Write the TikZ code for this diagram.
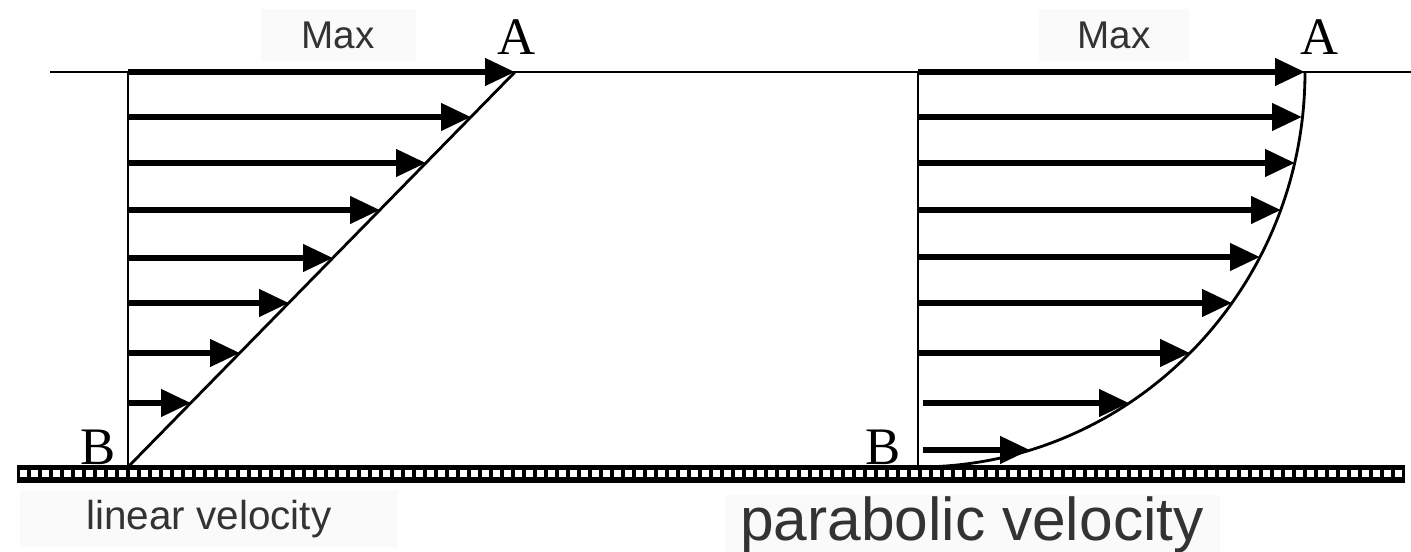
\documentclass[tikz,border=0pt]{standalone}
\usepackage{fontspec}
\setmainfont{Liberation Serif}
\setsansfont{Liberation Sans}
\usetikzlibrary{arrows.meta, positioning}

\begin{document}
\begin{tikzpicture}[
        wall/.style={draw=black, line width=0.6pt},
        profile/.style={draw=black, line width=0.8pt},
        vel/.style={-{Triangle[length=8.5pt, width=7.5pt]}, line width=1.7pt},
        tag/.style={font=\fontsize{11}{13}\selectfont\sffamily, fill=black!2, inner sep=0pt, text=black!80},
        caption/.style={font=\fontsize{11.5}{13}\selectfont\sffamily, fill=black!2, inner sep=0pt, text=black!80},
        pt/.style={font=\fontsize{15}{15}\selectfont, inner sep=0pt}
    ]
        \useasboundingbox (0,0) rectangle (14.11,5.52);

        % ground strip
        \fill[black] (0.17,0.69) rectangle (14.05,0.87);
        \foreach \i in {0,...,125}
            \fill[white] ({0.20+0.11*\i},0.75) rectangle ++(0.065,0.065);

        % free surface
        \draw[wall] (0.50,4.80) -- (14.11,4.80);

        % linear profile
        \coordinate (A1) at (5.15,4.80);
        \coordinate (B1) at (1.28,0.85);
        \draw[wall] (B1) -- (1.28,4.80);
        \draw[profile] (B1) -- (A1);
        \draw[vel] (1.28,4.80) -- (A1);
        \draw[vel] (1.28,4.35) -- (4.71,4.35);
        \draw[vel] (1.28,3.89) -- (4.26,3.89);
        \draw[vel] (1.28,3.42) -- (3.80,3.42);
        \draw[vel] (1.28,2.94) -- (3.33,2.94);
        \draw[vel] (1.28,2.49) -- (2.89,2.49);
        \draw[vel] (1.28,1.99) -- (2.40,1.99);
        \draw[vel] (1.28,1.49) -- (1.91,1.49);

        % parabolic profile
        \coordinate (A2) at (13.05,4.80);
        \coordinate (B2) at (9.18,0.85);
        \draw[wall] (B2) -- (9.18,4.80);
        \draw[profile] (A2) arc[start angle=0, end angle=-90, x radius=3.87, y radius=3.95];
        \draw[vel] (9.18,4.80) -- (A2);
        \draw[vel] (9.18,4.35) -- (13.02,4.35);
        \draw[vel] (9.18,3.89) -- (12.95,3.89);
        \draw[vel] (9.18,3.42) -- (12.81,3.42);
        \draw[vel] (9.18,2.95) -- (12.60,2.95);
        \draw[vel] (9.18,2.49) -- (12.32,2.49);
        \draw[vel] (9.18,1.99) -- (11.90,1.99);
        \draw[vel] (9.23,1.49) -- (11.29,1.49);
        \draw[vel] (9.23,1.02) -- (10.30,1.02);

        % labels
        \node[tag, minimum width=1.55cm, minimum height=0.52cm] (max1) at (3.38,5.17) {Max};
        \node[tag, minimum width=1.50cm, minimum height=0.52cm] (max2) at (11.14,5.17) {Max};
        \node[pt, anchor=base] (a1) at (5.17,4.97) {A};
        \node[pt, anchor=base] (a2) at (13.20,4.97) {A};
        \node[pt, anchor=base] (b1) at (0.98,0.87) {B};
        \node[pt, anchor=base] (b2) at (8.83,0.87) {B};
        \node[caption, minimum width=3.77cm, minimum height=0.57cm] (lin) at (2.09,0.33) {linear velocity};
        \node[caption, font=\fontsize{17.2}{19}\selectfont\sffamily, minimum width=4.95cm, minimum height=0.59cm] (par) at (9.72,0.27) {parabolic velocity};
    \end{tikzpicture}
\end{document}
